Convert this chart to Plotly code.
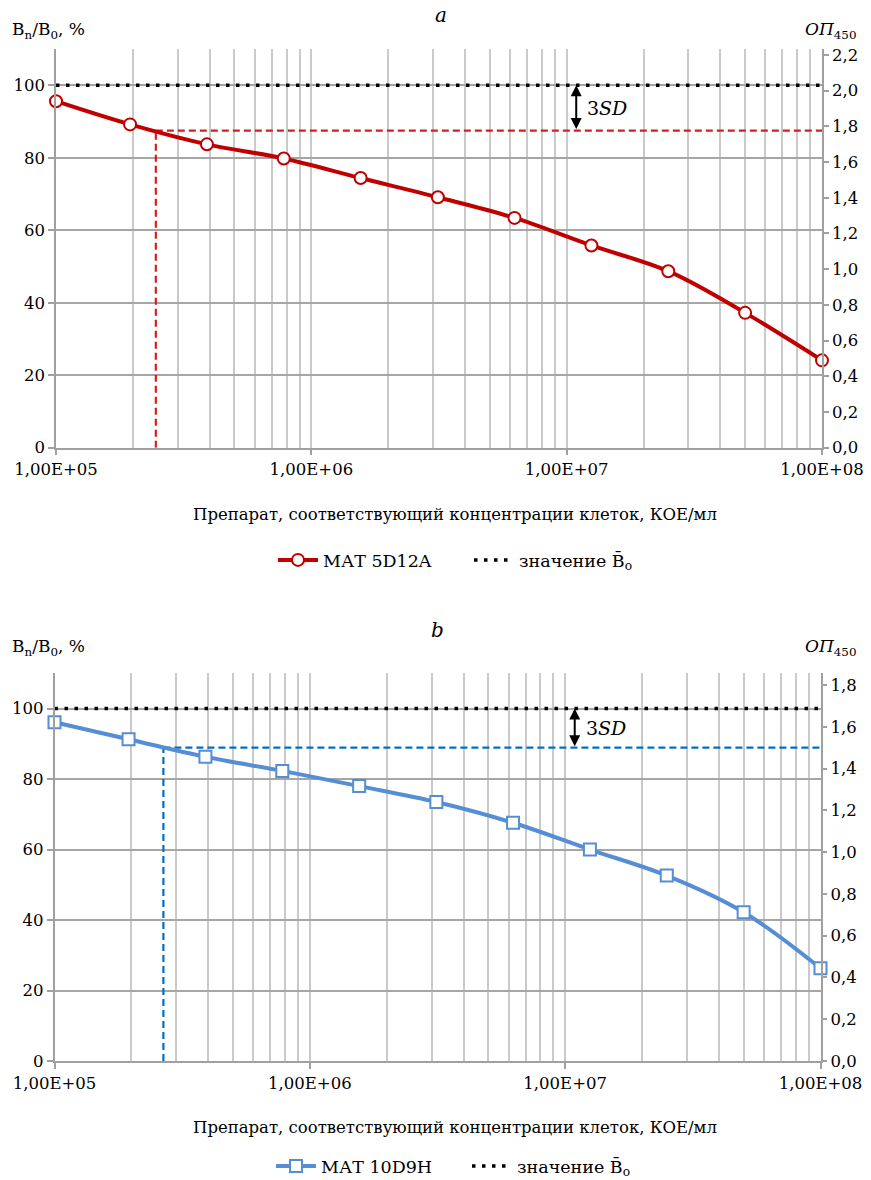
import numpy as np
import plotly.graph_objects as go

# ---------------- data ----------------
conc = [1e5, 1.95e5, 3.9e5, 7.8e5, 1.56e6, 3.13e6, 6.25e6, 1.25e7, 2.5e7, 5e7, 1e8]
ratio_a = [95.6, 89.2, 83.7, 79.8, 74.4, 69.1, 63.4, 55.8, 48.7, 37.2, 24.1]
ratio_b = [96.1, 91.3, 86.3, 82.3, 78.0, 73.5, 67.6, 60.0, 52.6, 42.2, 26.3]
name_a = "МАТ 5D12A"
name_b = "МАТ 10D9H"
b0_pct = 100
b0_od_a = 2.03      # OD450 of mean B0, panel a
b0_od_b = 1.687     # OD450 of mean B0, panel b
thr_a = 87.5        # B0 - 3SD, %
thr_b = 88.9
cross_a = 2.46e5    # concentration at threshold
cross_b = 2.67e5
sd_arrow_x = 1.09e7
x_ticks = [1e5, 1e6, 1e7, 1e8]
x_ticktext = ["1,00E+05", "1,00E+06", "1,00E+07", "1,00E+08"]
y_ticks = [0, 20, 40, 60, 80, 100]
x_title = "Препарат, соответствующий концентрации клеток, КОЕ/мл"
b0_label = "значение B\u0304<sub>o</sub>"

FONT = "DejaVu Serif"
FS = 16.5
RED = "#C00000"
RED_D = "#D42020"
BLUE = "#558ED5"
BLUE_D = "#0070C0"
GRID_V = "#CACACA"
GRID_H = "#A6A6A6"
AXIS = "#A0A0A0"

minor_vals = [m * d for d in (1e5, 1e6, 1e7) for m in range(2, 10)]

fig = go.Figure()

def add_panel(xa, ya, ya2, ratio, name, color, symbol, msize, dcolor, thr, cross, b0_od, legend):
    fig.add_trace(go.Scatter(x=[cross, conc[-1]], y=[thr, thr], mode="lines",
                             line=dict(color=dcolor, width=2.2, dash="7px,4px"),
                             xaxis=xa, yaxis=ya, showlegend=False, hoverinfo="skip"))
    fig.add_trace(go.Scatter(x=[cross, cross], y=[0, thr], mode="lines",
                             line=dict(color=dcolor, width=2.2, dash="7px,4px"),
                             xaxis=xa, yaxis=ya, showlegend=False, hoverinfo="skip"))
    fig.add_trace(go.Scatter(x=conc, y=ratio, mode="lines+markers", name=name,
                             line=dict(color=color, width=4, shape="spline"),
                             marker=dict(symbol=symbol, size=msize, color="white",
                                         line=dict(color=color, width=2)),
                             xaxis=xa, yaxis=ya, legend=legend, cliponaxis=False))
    fig.add_trace(go.Scatter(x=[conc[0], conc[-1]], y=[b0_pct, b0_pct], mode="lines",
                             name=b0_label,
                             line=dict(color="black", width=3.5, dash="3.5px,6.5px"),
                             xaxis=xa, yaxis=ya, legend=legend))
    fig.add_trace(go.Scatter(x=[conc[0]], y=[b0_od], mode="markers", marker=dict(opacity=0),
                             xaxis=xa, yaxis=ya2, showlegend=False, hoverinfo="skip"))

add_panel("x", "y", "y2", ratio_a, name_a, RED, "circle", 12, RED_D, thr_a, cross_a, b0_od_a, "legend")
add_panel("x2", "y3", "y4", ratio_b, name_b, BLUE, "square", 12, BLUE_D, thr_b, cross_b, b0_od_b, "legend2")

H = 1180.0
W = 871.0
dom_a_x = [56 / W, 822 / W]
dom_a_y = [(H - 447.7) / H, (H - 49) / H]
dom_b_x = [54.5 / W, 820.5 / W]
dom_b_y = [(H - 1061) / H, (H - 673.3) / H]

tickfont = dict(family=FONT, size=FS, color="black")

def xaxis_def(domain, anchor):
    return dict(type="log", domain=domain, anchor=anchor, range=[5, 8], automargin=False,
                tickmode="array", tickvals=x_ticks, ticktext=x_ticktext,
                showgrid=True, gridcolor=GRID_V, gridwidth=1.5,
                minor=dict(tickmode="array", tickvals=minor_vals, showgrid=True,
                           gridcolor=GRID_V, gridwidth=1.5, ticks=""),
                showline=True, linecolor=AXIS, linewidth=1.5,
                ticks="outside", ticklen=6, tickcolor=AXIS, tickwidth=1.5,
                tickfont=tickfont, zeroline=False)

def yaxis_def(domain, anchor):
    return dict(domain=domain, anchor=anchor, range=[0, 110], automargin=False,
                tickmode="array", tickvals=y_ticks,
                showgrid=True, gridcolor=GRID_H, gridwidth=1.5,
                showline=True, linecolor=AXIS, linewidth=1.5,
                ticks="outside", ticklen=6, tickcolor=AXIS, tickwidth=1.5,
                tickfont=tickfont, zeroline=False)

def yaxis_right(overlay, anchor, b0_od):
    return dict(overlaying=overlay, anchor=anchor, side="right", automargin=False,
                range=[0, b0_od * 110 / b0_pct], dtick=0.2, tick0=0, tickformat=".1f",
                showgrid=False, showline=True, linecolor=AXIS, linewidth=1.5,
                ticks="outside", ticklen=5, tickcolor=AXIS, tickwidth=1.5,
                tickfont=tickfont, zeroline=False)

legend_common = dict(orientation="h", xanchor="left", yanchor="top",
                     font=dict(family=FONT, size=17.5, color="black"),
                     bgcolor="rgba(0,0,0,0)", itemwidth=40, entrywidth=141,
                     tracegroupgap=0)

fig.update_layout(
    width=871, height=1180,
    margin=dict(l=0, r=0, t=0, b=0, autoexpand=False),
    paper_bgcolor="white", plot_bgcolor="white",
    separators=", ",
    font=dict(family=FONT, size=FS, color="black"),
    xaxis=xaxis_def(dom_a_x, "y"),
    yaxis=yaxis_def(dom_a_y, "x"),
    yaxis2=yaxis_right("y", "x", b0_od_a),
    xaxis2=xaxis_def(dom_b_x, "y3"),
    yaxis3=yaxis_def(dom_b_y, "x2"),
    yaxis4=yaxis_right("y3", "x2", b0_od_b),
    legend=dict(x=273 / W, y=(H - 542) / H, **legend_common),
    legend2=dict(x=271 / W, y=(H - 1148) / H, **legend_common),
    showlegend=True,
)

ann = []
for (lab, ypix, xpix) in (("a", 15, 441), ("b", 630, 437)):
    ann.append(dict(text="<i>%s</i>" % lab, xref="paper", yref="paper", x=xpix / W, y=(H - ypix) / H,
                    showarrow=False, font=dict(family=FONT, size=20), xanchor="center", yanchor="middle"))
for ypix in (30, 647):
    ann.append(dict(text="B<sub>n</sub>/B<sub>0</sub>, %", xref="paper", yref="paper",
                    x=10 / W, y=(H - ypix) / H, showarrow=False, xanchor="left", yanchor="middle",
                    font=dict(family=FONT, size=17)))
    ann.append(dict(text="<i>ОП</i><sub>450</sub>", xref="paper", yref="paper",
                    x=858 / W, y=(H - ypix) / H, showarrow=False, xanchor="right", yanchor="middle",
                    font=dict(family=FONT, size=17)))
for ypix in (515, 1127):
    ann.append(dict(text=x_title, xref="paper", yref="paper", x=455 / W, y=(H - ypix) / H,
                    showarrow=False, xanchor="center", yanchor="middle",
                    font=dict(family=FONT, size=16.5)))

for xr, yr, thr in (("x", "y", thr_a), ("x2", "y3", thr_b)):
    ann.append(dict(x=np.log10(sd_arrow_x), y=b0_pct, ax=np.log10(sd_arrow_x), ay=thr,
                    xref=xr, yref=yr, axref=xr, ayref=yr, text="", showarrow=True,
                    arrowhead=2, startarrowhead=2, arrowside="end+start", arrowsize=1.1,
                    startarrowsize=1.1, arrowwidth=2, arrowcolor="black"))
    ann.append(dict(x=np.log10(sd_arrow_x), y=(b0_pct + thr) / 2, xref=xr, yref=yr,
                    text="3<i>SD</i>", showarrow=False, xanchor="left", yanchor="middle",
                    xshift=9, font=dict(family=FONT, size=19)))

fig.update_layout(annotations=ann)

fig.write_html(
    "out.html",
    config={"displayModeBar": False},
    post_script="document.body.style.margin='0';document.body.style.overflow='hidden';",
)
